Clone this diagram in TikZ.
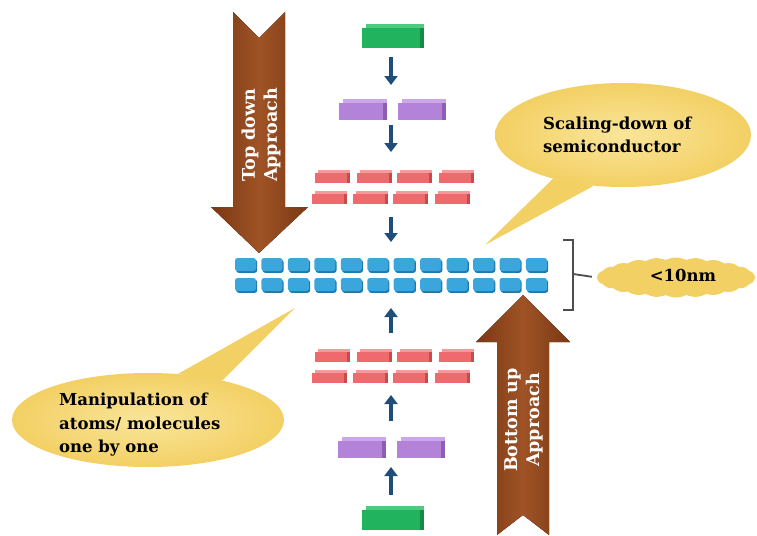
\documentclass[tikz,border=0pt]{standalone}
\usepackage{fontspec}
\setmainfont{DejaVu Serif}
\usetikzlibrary{arrows.meta,shapes.geometric,shapes.symbols}
\definecolor{grnF}{HTML}{22B35E}
\definecolor{grnT}{HTML}{4FCB80}
\definecolor{grnS}{HTML}{178A47}
\definecolor{purF}{HTML}{B383D9}
\definecolor{purT}{HTML}{CBA6E8}
\definecolor{purS}{HTML}{8C5FB3}
\definecolor{redF}{HTML}{EF6A6C}
\definecolor{redT}{HTML}{F7999A}
\definecolor{redS}{HTML}{C84A4D}
\definecolor{bluF}{HTML}{3AA6DB}
\definecolor{bluS}{HTML}{2279A8}
\definecolor{navy}{HTML}{1F4E7B}
\definecolor{brD}{HTML}{7A3812}
\definecolor{brL}{HTML}{9F5326}
\definecolor{yel}{HTML}{F3D064}
\definecolor{yelL}{HTML}{F9E59A}
\definecolor{brkc}{HTML}{4D4D4D}
\tikzset{
  box3d/.style n args={4}{rectangle, inner sep=0pt, minimum width=#1, minimum height=#2,
    fill=#3F,
    preaction={fill=#3T, transform canvas={xshift=#4, yshift=#4}},
    preaction={fill=#3S, transform canvas={xshift=#4}}},
  grnbox/.style={box3d={58pt}{20pt}{grn}{4pt}},
  purbox/.style={box3d={44pt}{17pt}{pur}{4pt}},
  redbox/.style={box3d={32pt}{10pt}{red}{3pt}},
  blubox/.style={rectangle, rounded corners=2.5pt, inner sep=0pt, minimum width=21pt,
    minimum height=13pt, fill=bluF,
    preaction={fill=bluS, transform canvas={xshift=1.2pt, yshift=-1.8pt}}},
  navyarr/.style={draw=navy, line width=4.5pt, -{Triangle[length=9pt, width=13pt]}},
  brownarr/.style={left color=brD, right color=brD, middle color=brL},
  arrtxt/.style={rotate=90, text=white, align=center, inner sep=0pt,
    font=\bfseries\fontsize{17.5}{22}\selectfont},
  txt/.style={text=black, inner sep=0pt, font=\bfseries\fontsize{16.5}{23.5}\selectfont},
  bubble/.style={ellipse, inner sep=0pt, inner color=yelL, outer color=yel},
  brk/.style={draw=brkc, line width=1.8pt}
}
\begin{document}
\begin{tikzpicture}[x=1pt, y=-1pt]
\useasboundingbox (0,0) rectangle (757,535);
\fill[white] (0,0) rectangle (757,535);

% brown block arrows
\fill[brownarr] (233,12) -- (259,38) -- (285,12) -- (285,207) -- (308,207) -- (259,253)
  -- (211,207) -- (233,207) -- cycle;
\node[arrtxt] (tdt) at (261,135) {Top down\\Approach};
\fill[brownarr] (523,295) -- (570,342) -- (549,342) -- (549,535) -- (523,515) -- (497,535)
  -- (497,342) -- (476,342) -- cycle;
\node[arrtxt] (but) at (523.5,420) {Bottom up\\Approach};

% callouts
\node[bubble, minimum width=256pt, minimum height=104pt] (c1) at (623,135) {};
\coordinate (tip1) at (485,245);
\fill[yel] (c1.212) -- (tip1) -- (c1.240) -- cycle;
\node[txt, anchor=west, align=left] (c1t) at (543,135) {Scaling-down of\\semiconductor};

\node[bubble, minimum width=272pt, minimum height=94pt] (c2) at (148,420) {};
\coordinate (tip2) at (295,308);
\fill[yel] (c2.57) -- (tip2) -- (c2.28) -- cycle;
\node[txt, anchor=west, align=left] (c2t) at (59,425) {Manipulation of\\atoms/ molecules\\one by one};

% layer reference points
\coordinate (L1) at (391,38);
\coordinate (L2) at (391,111);
\coordinate (L3) at (391,188.5);
\coordinate (L4) at (391,274.5);
\coordinate (L5) at (391,367.5);
\coordinate (L6) at (391,449);
\coordinate (L7) at (391,520);

% blocks
\node[grnbox] (g1) at (391,38) {};
\node[purbox] (p1) at (361,111) {};
\node[purbox] (p2) at (420,111) {};
\foreach \x [count=\i] in {331,373,413,455} \node[redbox] (ra\i) at (\x,178) {};
\foreach \x [count=\i] in {328,369,409,451} \node[redbox] (rb\i) at (\x,199) {};
\foreach \i in {0,...,11} {
  \node[blubox] (ba\i) at ({245.5+26.45*\i},264.5) {};
  \node[blubox] (bb\i) at ({245.5+26.45*\i},284.5) {};
}
\foreach \x [count=\i] in {331,373,413,455} \node[redbox] (rc\i) at (\x,357) {};
\foreach \x [count=\i] in {328,369,409,451} \node[redbox] (rd\i) at (\x,378) {};
\node[purbox] (p3) at (360,449) {};
\node[purbox] (p4) at (419,449) {};
\node[grnbox] (g2) at (391,520) {};

% navy connectors
\draw[navyarr, shorten <=19pt, shorten >=26pt] (L1) -- (L2);
\draw[navyarr, shorten <=14pt, shorten >=36.5pt] (L2) -- (L3);
\draw[navyarr, shorten <=28.5pt, shorten >=32.5pt] (L3) -- (L4);
\draw[navyarr, shorten <=34.5pt, shorten >=33.5pt] (L5) -- (L4);
\draw[navyarr, shorten <=28pt, shorten >=27.5pt] (L6) -- (L5);
\draw[navyarr, shorten <=25pt, shorten >=18pt] (L7) -- (L6);

% cloud and bracket
\node[cloud, cloud puffs=24, cloud puff arc=55, aspect=4.5, inner sep=0pt,
  minimum width=158pt, minimum height=40pt, fill=yel] (cl) at (676,277.5) {};
\node[txt] (clt) at (683,275) {<10nm};
\draw[brk] (563,240) -| (573,310) -- (563,310);
\coordinate (bm) at (573,274);
\draw[brk, shorten >=5pt] (bm) -- (cl.west);
\end{tikzpicture}
\end{document}
